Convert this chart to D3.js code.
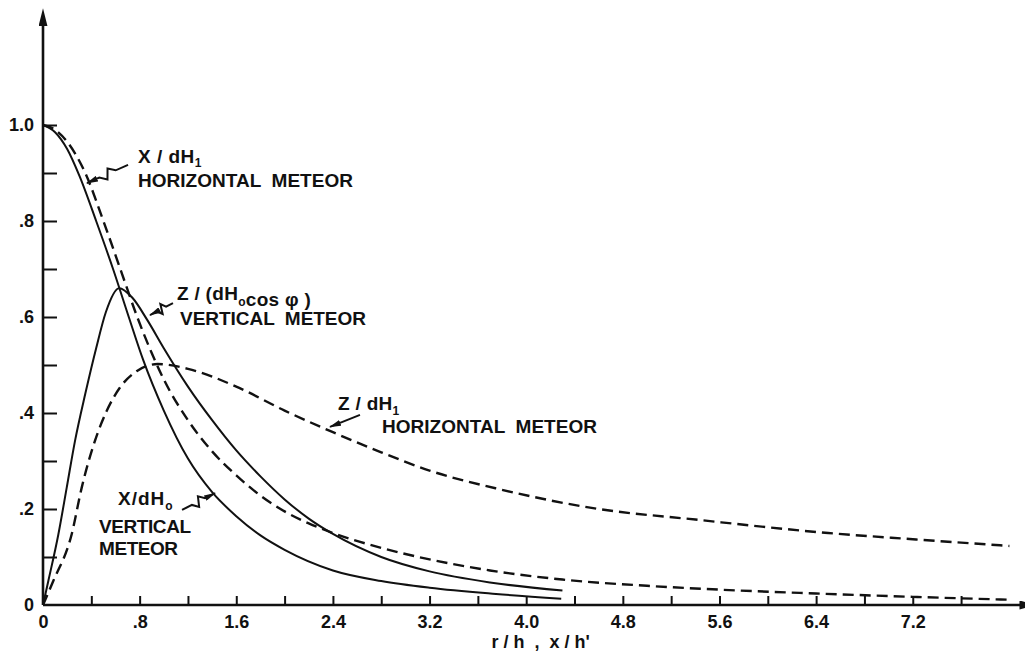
<!DOCTYPE html>
<html>
<head>
<meta charset="utf-8">
<script src="https://cdn.jsdelivr.net/npm/d3@7"></script>
<style>
  body { margin: 0; background: #fff; }
  text { font-family: "Liberation Sans", Arial, sans-serif; font-weight: bold; fill: #111; }
</style>
</head>
<body>
<div id="chart"></div>
<script>
// values (r/h or x/h' against field ratio)

// X/dH0, vertical meteor (solid)
const xVertR = [0, 0.1, 0.2, 0.3, 0.44, 0.58, 0.71, 0.83, 1.0, 1.2, 1.4, 1.6, 1.8, 2.0, 2.4, 2.8, 3.2, 3.75, 4.29];
const xVertV = [1.0, 0.985, 0.95, 0.895, 0.8, 0.7, 0.6, 0.51, 0.405, 0.305, 0.235, 0.185, 0.145, 0.115, 0.072, 0.05, 0.036, 0.023, 0.013];

// Z/(dH0 cos phi), vertical meteor (solid)
const zVertR = [0, 0.044, 0.127, 0.196, 0.265, 0.35, 0.44, 0.52, 0.63, 0.74, 0.86, 1.0, 1.2, 1.4, 1.6, 1.8, 2.0, 2.2, 2.4, 2.8, 3.2, 3.7, 4.3];
const zVertV = [0, 0.05, 0.147, 0.244, 0.342, 0.44, 0.535, 0.61, 0.66, 0.64, 0.595, 0.535, 0.455, 0.385, 0.322, 0.268, 0.22, 0.18, 0.148, 0.1, 0.07, 0.047, 0.03];

// X/dH1, horizontal meteor (dashed)
const xHorR = [0, 0.1, 0.2, 0.35, 0.5, 0.64, 0.78, 0.9, 1.0, 1.2, 1.4, 1.6, 1.8, 2.0, 2.2, 2.4, 2.8, 3.2, 3.7, 4.3, 5.0, 5.6, 6.4, 7.2, 8.0];
const xHorV = [1.0, 0.99, 0.965, 0.9, 0.8, 0.7, 0.6, 0.525, 0.47, 0.385, 0.32, 0.27, 0.228, 0.195, 0.17, 0.15, 0.119, 0.095, 0.072, 0.053, 0.04, 0.032, 0.024, 0.017, 0.011];

// Z/dH1, horizontal meteor (dashed)
const zHorR = [0, 0.085, 0.237, 0.32, 0.43, 0.527, 0.637, 0.775, 0.95, 1.2, 1.6, 2.0, 2.4, 2.8, 3.2, 3.8, 4.6, 5.4, 6.5, 7.2, 8.0];
const zHorV = [0, 0.05, 0.147, 0.244, 0.342, 0.404, 0.453, 0.487, 0.502, 0.492, 0.455, 0.405, 0.36, 0.318, 0.28, 0.24, 0.2, 0.178, 0.15, 0.137, 0.123];

// axis ticks and labels
const xTicks = [0.4, 0.8, 1.2, 1.6, 2.0, 2.4, 2.8, 3.2, 3.6, 4.0, 4.4, 4.8, 5.2, 5.6, 6.0, 6.4, 6.8, 7.2, 7.6];
const xLabelValues = [0, 0.8, 1.6, 2.4, 3.2, 4.0, 4.8, 5.6, 6.4, 7.2];
const xTickLabels = ["0", ".8", "1.6", "2.4", "3.2", "4.0", "4.8", "5.6", "6.4", "7.2"];
const yTicks = [0.1, 0.2, 0.3, 0.4, 0.5, 0.6, 0.7, 0.8, 0.9, 1.0];
const yLabelValues = [0, 0.2, 0.4, 0.6, 0.8, 1.0];
const yTickLabels = ["0", ".2", ".4", ".6", ".8", "1.0"];

const width = 1025, height = 654;

const x = d3.scaleLinear().domain([0, 8]).range([43, 1009.4]);
const y = d3.scaleLinear().domain([0, 1]).range([605, 125]);

const svg = d3.select("#chart").append("svg")
    .attr("width", width)
    .attr("height", height);

const defs = svg.append("defs");
defs.append("marker")
    .attr("id", "head")
    .attr("viewBox", "0 0 12 6")
    .attr("refX", 11).attr("refY", 3)
    .attr("markerWidth", 12).attr("markerHeight", 6)
    .attr("markerUnits", "userSpaceOnUse")
    .attr("orient", "auto")
  .append("path")
    .attr("d", "M0,0 L12,3 L0,6 Z")
    .attr("fill", "#111");
defs.append("marker")
    .attr("id", "axishead")
    .attr("viewBox", "0 0 18 9")
    .attr("refX", 2).attr("refY", 4.5)
    .attr("markerWidth", 18).attr("markerHeight", 9)
    .attr("markerUnits", "userSpaceOnUse")
    .attr("orient", "auto")
  .append("path")
    .attr("d", "M0,0 L18,4.5 L0,9 Z")
    .attr("fill", "#111");

// Axis lines with arrows
svg.append("line")
    .attr("x1", x(0)).attr("y1", y(0))
    .attr("x2", x(8.1)).attr("y2", y(0))
    .attr("stroke", "#111").attr("stroke-width", 2.6)
    .attr("marker-end", "url(#axishead)");
svg.append("line")
    .attr("x1", x(0)).attr("y1", y(0))
    .attr("x2", x(0)).attr("y2", y(1.21))
    .attr("stroke", "#111").attr("stroke-width", 2.6)
    .attr("marker-end", "url(#axishead)");

// X ticks (pointing up) and labels
const xt = svg.append("g")
    .attr("transform", "translate(0," + y(0) + ")")
    .call(d3.axisBottom(x).tickValues(xTicks).tickSize(-9).tickFormat(""));
xt.select(".domain").remove();
xt.selectAll("line").attr("stroke", "#111").attr("stroke-width", 2);

const xl = svg.append("g")
    .attr("transform", "translate(0," + y(0) + ")")
    .call(d3.axisBottom(x).tickValues(xLabelValues).tickSize(0).tickPadding(10)
      .tickFormat(d => xTickLabels[xLabelValues.indexOf(d)]));
xl.select(".domain").remove();
xl.selectAll("text").attr("font-size", 18).attr("font-family", null).attr("fill", null);

// Y ticks (pointing right) and labels
const yt = svg.append("g")
    .attr("transform", "translate(" + x(0) + ",0)")
    .call(d3.axisLeft(y).tickValues(yTicks).tickSize(-14).tickFormat(""));
yt.select(".domain").remove();
yt.selectAll("line").attr("stroke", "#111").attr("stroke-width", 2);

const yl = svg.append("g")
    .attr("transform", "translate(" + x(0) + ",0)")
    .call(d3.axisLeft(y).tickValues(yLabelValues).tickSize(0).tickPadding(9)
      .tickFormat(d => yTickLabels[yLabelValues.indexOf(d)]));
yl.select(".domain").remove();
yl.selectAll("text").attr("font-size", 18).attr("font-family", null).attr("fill", null);

// curves
const line = d3.line()
    .x(d => x(d[0]))
    .y(d => y(d[1]))
    .curve(d3.curveMonotoneX);

const series = [
  { r: xVertR, v: xVertV, dash: null },
  { r: zVertR, v: zVertV, dash: null },
  { r: xHorR, v: xHorV, dash: "11,6" },
  { r: zHorR, v: zHorV, dash: "11,6" }
];

svg.selectAll("path.curve")
  .data(series)
  .enter().append("path")
    .attr("class", "curve")
    .attr("d", s => line(d3.zip(s.r, s.v)))
    .attr("fill", "none")
    .attr("stroke", "#111")
    .attr("stroke-width", s => s.dash ? 2.4 : 2)
    .attr("stroke-dasharray", s => s.dash);

// annotation text
function label(r, v, parts, opts) {
  const t = svg.append("text")
      .attr("x", x(r)).attr("y", y(v))
      .attr("font-size", 19)
      .style("white-space", "pre");
  if (opts && opts.len) t.attr("textLength", opts.len).attr("lengthAdjust", "spacing");
  if (opts && opts.ls) t.attr("letter-spacing", opts.ls);
  parts.forEach(p => {
    if (typeof p === "string") {
      t.append("tspan").text(p);
    } else {
      t.append("tspan").attr("font-size", 12).attr("dy", p.dy).text(p.sub);
      t.append("tspan").attr("dy", -p.dy).text("");
    }
  });
  return t;
}

label(0.786, 0.921, ["X / dH", { sub: "1", dy: 4 }], { ls: 0.5 });
label(0.786, 0.871, ["HORIZONTAL  METEOR"], { len: 215 });

label(1.109, 0.635, ["Z / (dH", { sub: "o", dy: 6 }, "cos φ )"], { ls: 0.3 });
label(1.134, 0.583, ["VERTICAL  METEOR"], { len: 186 });

label(2.442, 0.406, ["Z / dH", { sub: "1", dy: 5 }], { ls: 0.3 });
label(2.806, 0.358, ["HORIZONTAL  METEOR"], { len: 215 });

label(0.621, 0.208, ["X/dH", { sub: "o", dy: 5 }], { ls: 1 });
label(0.464, 0.150, ["VERTICAL"], { len: 92 });
label(0.464, 0.104, ["METEOR"], { len: 79 });

svg.append("text")
    .attr("x", x(4.12)).attr("y", y(-0.0896))
    .attr("text-anchor", "middle")
    .attr("font-size", 18)
    .style("white-space", "pre")
    .text("r / h  ,  x / h'");

// leader arrows
function leader(r0, v0, r1, v1, zig) {
  const sx = x(r0), sy = y(v0), ex = x(r1), ey = y(v1);
  const dx = ex - sx, dy = ey - sy, len = Math.hypot(dx, dy);
  const nx = -dy / len, ny = dx / len;
  const at = (f, o) => [sx + dx * f + nx * o, sy + dy * f + ny * o];
  const pts = zig
    ? [at(0, 0), at(0.3, 0), at(0.45, 5), at(0.55, -5), at(0.7, 0), at(1, 0)]
    : [at(0, 0), at(1, 0)];
  svg.append("path")
      .attr("d", d3.line()(pts))
      .attr("fill", "none")
      .attr("stroke", "#111")
      .attr("stroke-width", 2)
      .attr("marker-end", "url(#head)");
}

leader(0.704, 0.917, 0.364, 0.879, true);
leader(1.076, 0.629, 0.886, 0.604, true);
leader(2.624, 0.396, 2.376, 0.371, false);
leader(1.151, 0.198, 1.424, 0.233, true);
</script>
</body>
</html>
